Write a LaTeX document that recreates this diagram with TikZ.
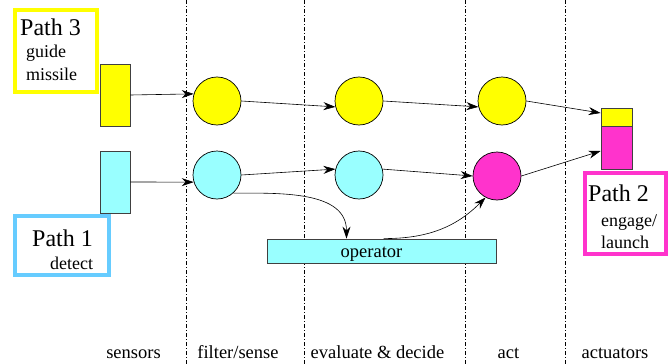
\documentclass[tikz,border=0pt]{standalone}
\usepackage{fontspec}
\setmainfont{Liberation Serif}
\usetikzlibrary{arrows.meta}
\definecolor{ccyan}{RGB}{153,255,255}
\definecolor{cmag}{RGB}{255,51,204}
\definecolor{cblue}{RGB}{102,204,255}
\definecolor{cyel}{RGB}{255,255,0}
\tikzset{
  phase/.style={draw=black, line width=0.6pt, dash pattern=on 4pt off 2pt on 1pt off 2pt},
  blob/.style={circle, draw=black, line width=0.7pt, minimum size=48pt, inner sep=0pt},
  sensorbox/.style={rectangle, draw=black!75, line width=0.8pt, minimum width=30pt, minimum height=62pt, inner sep=0pt},
  pathbox/.style={rectangle, fill=white, line width=3.5pt, inner sep=0pt},
  flow/.style={-{Stealth[length=12pt,width=8pt]}, line width=0.6pt, black},
  big/.style={font=\rmfamily\fontsize{24}{27}\selectfont, inner sep=0pt, anchor=base west},
  small/.style={font=\rmfamily\fontsize{18}{20}\selectfont, inner sep=0pt, anchor=base west},
  lab/.style={font=\rmfamily\fontsize{18.5}{20}\selectfont, inner sep=0pt, anchor=base}
}
\begin{document}
\begin{tikzpicture}[x=1pt,y=-1pt]
\useasboundingbox (0,0) rectangle (670,364);
% phase separators
\foreach \xx/\nm in {186/la,304/lb,465/lc,565/ld}{
  \coordinate (\nm t) at (\xx,0);
  \coordinate (\nm b) at (\xx,364);
  \draw[phase] (\nm t) -- (\nm b);
}
% path boxes
\node[pathbox, draw=cyel, minimum width=82pt, minimum height=82pt] (p3) at (56,51) {};
\node[pathbox, draw=cblue, minimum width=94pt, minimum height=59pt] (p1) at (62,245.5) {};
\node[pathbox, draw=cmag, minimum width=81pt, minimum height=81pt] (p2) at (625.5,213.5) {};
\node[big] (p3a) at (20,35) {Path 3};
\node[small] (p3b) at (26,57) {guide};
\node[small] (p3c) at (26,80) {missile};
\node[big] (p1a) at (32,246) {Path 1};
\node[small] (p1b) at (50,269) {detect};
\node[big] (p2a) at (588,201) {Path 2};
\node[small] (p2b) at (601,226) {engage/};
\node[small] (p2c) at (601,248) {launch};
% sensors
\node[sensorbox, fill=cyel] (ys) at (115,95) {};
\node[sensorbox, fill=ccyan] (cs) at (115,182) {};
% actuators
\node[rectangle, draw=black!75, line width=0.8pt, fill=cyel, minimum width=31pt, minimum height=18pt, inner sep=0pt] (ay) at (616.5,117) {};
\node[rectangle, draw=black!75, line width=0.8pt, fill=cmag, minimum width=31pt, minimum height=43pt, inner sep=0pt] (am) at (616.5,147.5) {};
% circles
\node[blob, fill=cyel] (y1) at (217,101) {};
\node[blob, fill=cyel] (y2) at (359,101) {};
\node[blob, fill=cyel] (y3) at (502,101) {};
\node[blob, fill=ccyan] (c1) at (217,175) {};
\node[blob, fill=ccyan] (c2) at (359,175) {};
\node[blob, fill=cmag] (m) at (497,176) {};
% operator
\node[rectangle, draw=black!75, line width=0.8pt, fill=ccyan, minimum width=229pt, minimum height=24pt, inner sep=0pt] (op) at (381.5,251) {};
\node[lab] (opt) at (371.5,257) {operator};
% connectors
\draw[flow] (ys.east) -- (y1.163);
\draw[flow] (cs.east) -- (c1.197);
\draw[flow] (y1.east) -- (y2.194);
\draw[flow] (y2.east) -- (y3.194);
\draw[flow] (c1.east) -- (c2.166);
\draw[flow] (c2.14) -- (m.west);
\draw[flow] (y3.east) -- ([yshift=4pt]ay.west);
\draw[flow] (m.east) -- ([yshift=-3.5pt]am.west);
\draw[flow] (c1.-48) to[out=0,in=90] ([xshift=-35pt]op.north);
\draw[flow] ([xshift=2pt]op.north) to[out=0,in=225] (m.242);
% phase labels
\node[lab] (s1) at (133.5,358) {sensors};
\node[lab] (s2) at (238,358) {filter/sense};
\node[lab] (s3) at (377.5,358) {evaluate \& decide};
\node[lab] (s4) at (508.5,358) {act};
\node[lab] (s5) at (615,358) {actuators};
\end{tikzpicture}
\end{document}
